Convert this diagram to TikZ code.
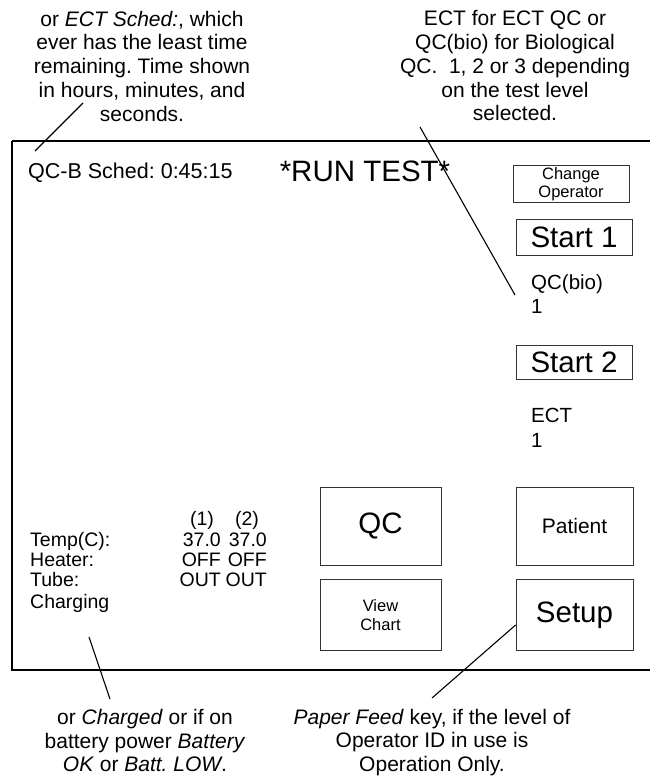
\documentclass[tikz,border=0pt]{standalone}
\usepackage{fontspec}
\setmainfont{Liberation Sans}
\frenchspacing
\begin{document}
\begin{tikzpicture}[x=1bp,y=-1bp,
  note/.style={align=center, inner sep=0pt, font=\fontsize{21bp}{23.75bp}\selectfont},
  scrtext/.style={inner sep=0pt, font=\fontsize{20.5bp}{24.5bp}\selectfont},
  datatext/.style={inner sep=0pt, font=\fontsize{19.5bp}{20bp}\selectfont},
  keybase/.style={draw=black!80, line width=0.8bp, inner sep=0pt, align=center},
  bigkey/.style={keybase, font=\fontsize{29.5bp}{32bp}\selectfont},
  midkey/.style={keybase, font=\fontsize{21bp}{24bp}\selectfont},
  smallkey/.style={keybase, font=\fontsize{16.5bp}{18.5bp}\selectfont},
  leader/.style={line width=1.1bp, black}]
\useasboundingbox (0,0) rectangle (650,777);

% screen outline (runs off the right edge)
\draw[line width=2.2bp] (12,141) -- (680,141);
\draw[line width=2.2bp] (12,141) -- (12,670) -- (680,670);

% annotations
\node[note] (noteTL) at (142,66) {or \textit{ECT Sched:}, which\\ever has the least time\\remaining. Time shown\\in hours, minutes, and\\seconds.};
\node[note] (noteTR) at (515,66) {ECT for ECT QC or\\QC(bio) for Biological\\QC.\ \ 1, 2 or 3 depending\\on the test level\\selected.};
\node[note] (noteBL) at (145,740.5) {or \textit{Charged} or if on\\battery power \textit{Battery}\\\textit{OK} or \textit{Batt. LOW}.};
\node[note] (noteBR) at (432,742.5) {\textit{Paper Feed} key, if the level of\\Operator ID in use is\\Operation Only.};

% header line of the screen
\node[inner sep=0pt, anchor=base west, font=\fontsize{21.5bp}{24bp}\selectfont] (sched) at (28,178.5) {QC-B Sched: 0:45:15};
\node[inner sep=0pt, anchor=base, font=\fontsize{29.5bp}{32bp}\selectfont] (runtest) at (365,181.5) {*RUN TEST*};

% right column keys and status
\node[smallkey, minimum width=116bp, minimum height=37bp] (chgop) at (571,184) {Change\\Operator};
\node[bigkey, minimum width=116bp, minimum height=36bp] (start1) at (574,237.5) {Start 1};
\node[scrtext, align=left, anchor=north west] (stat1) at (531,274) {QC(bio)\\1};
\node[bigkey, minimum width=116bp, minimum height=34bp] (start2) at (574,362) {Start 2};
\node[scrtext, align=left, anchor=north west] (stat2) at (531,408) {ECT\\1};

% lower keys
\node[bigkey, minimum width=121bp, minimum height=78bp] (qc) at (380.5,526) {QC};
\node[midkey, minimum width=117bp, minimum height=78bp] (patient) at (574.5,526) {Patient};
\node[smallkey, minimum width=121bp, minimum height=71bp] (chart) at (380.5,615) {View\\Chart};
\node[bigkey, minimum width=117bp, minimum height=71bp] (setup) at (574.5,615) {Setup};

% temperature, heater and tube readout
\node[datatext, anchor=base] (h1) at (202,525) {(1)};
\node[datatext, anchor=base] (h2) at (247,525) {(2)};
\node[datatext, anchor=base west] (ltemp) at (30,546) {Temp(C):};
\node[datatext, anchor=base east] (t1) at (221,546) {37.0};
\node[datatext, anchor=base east] (t2) at (267,546) {37.0};
\node[datatext, anchor=base west] (lheat) at (30,566) {Heater:};
\node[datatext, anchor=base east] (ht1) at (221,566) {OFF};
\node[datatext, anchor=base east] (ht2) at (267,566) {OFF};
\node[datatext, anchor=base west] (ltube) at (30,586) {Tube:};
\node[datatext, anchor=base east] (tb1) at (221,586) {OUT};
\node[datatext, anchor=base east] (tb2) at (267,586) {OUT};
\node[datatext, anchor=base west] (charge) at (30,608) {Charging};

% leader lines
\coordinate (ldTLa) at (83,103);
\coordinate (ldTLb) at (35,151);
\coordinate (ldTRa) at (420,127);
\coordinate (ldTRb) at (515,295);
\coordinate (ldBLa) at (89,637);
\coordinate (ldBLb) at (110,699);
\coordinate (ldBRb) at (432,698);
\draw[leader] (ldTLa) -- (ldTLb);
\draw[leader] (ldTRa) -- (ldTRb);
\draw[leader] (ldBLa) -- (ldBLb);
\draw[leader] (setup.west |- 0,625) -- (ldBRb);
\end{tikzpicture}
\end{document}
